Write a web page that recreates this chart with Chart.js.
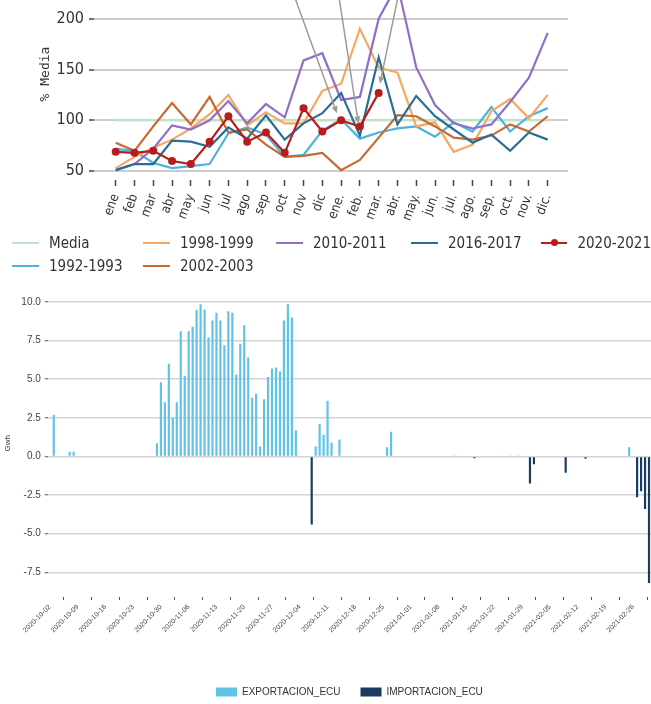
<!DOCTYPE html>
<html>
<head>
<meta charset="utf-8">
<script src="https://cdn.jsdelivr.net/npm/chart.js@4.4.1/dist/chart.umd.min.js"></script>
<style>
  body { margin: 0; background: #fff; width: 651px; height: 704px; overflow: hidden; position: relative; }
  #grafMeses { position: absolute; left: 0; top: -36px; }
  #leyenda { position: absolute; left: 12px; top: 231px; display: grid;
             grid-template-columns: 131px 133px 135px 130px 110px; grid-template-rows: 23px 23px;
             font-family: "DejaVu Sans Condensed", "DejaVu Sans", sans-serif; font-size: 15px; color: #333; }
  #leyenda .item { display: flex; align-items: center; white-space: nowrap; }
  #leyenda .linea { position: relative; width: 27px; height: 2px; margin-right: 10px; }
  #leyenda .punto { position: absolute; left: 10px; top: -2.5px; width: 7px; height: 7px; border-radius: 50%; }
  #grafDiario { position: absolute; left: 0; top: 285px; }
</style>
</head>
<body>
<canvas id="grafMeses" width="651" height="268"></canvas>
<div id="leyenda"></div>
<canvas id="grafDiario" width="651" height="422"></canvas>
<script>
// ---- grafico mensual (% sobre la media) ----
const meses = ['ene', 'feb', 'mar', 'abr', 'may', 'jun', 'jul', 'ago', 'sep', 'oct', 'nov', 'dic',
  'ene.', 'feb.', 'mar.', 'abr.', 'may.', 'jun.', 'jul.', 'ago.', 'sep.', 'oct.', 'nov.', 'dic.'];
const media  = [100, 100, 100, 100, 100, 100, 100, 100, 100, 100, 100, 100,
                100, 100, 100, 100, 100, 100, 100, 100, 100, 100, 100, 100];
const c1992 = [72, 70, 58, 53, 55, 57, 87, 93, 86, 64, 66, 90, 101, 82, 88, 92, 94, 84, 98, 89, 113, 89, 104, 112];
const c1998 = [53, 64, 73, 81, 92, 106, 125, 95, 108, 97, 97, 129, 136, 190, 152, 147, 94, 98, 69, 76, 109, 121, 102, 125];
const c2002 = [78, 70, 94, 117, 96, 123, 88, 91, 76, 64, 65, 68, 51, 61, 83, 105, 104, 94, 83, 81, 85, 96, 89, 104];
const c2010 = [51, 57, 72, 95, 91, 100, 119, 97, 116, 103, 159, 166, 120, 123, 200, 234, 152, 115, 97, 92, 96, 118, 142, 186];
const c2016 = [51, 57, 57, 80, 79, 74, 93, 82, 105, 81, 97, 107, 127, 85, 162, 96, 124, 104, 91, 78, 86, 70, 88, 81];
const c2020 = [69, 68, 70, 60, 57, 79, 104, 79, 88, 68, 112, 89, 100, 94, 127];
const ticksPct = [50, 100, 150, 200];
// flechas de anotacion: [indice mes, valor] origen -> destino
const flechas = [
  { desde: [8.96, 250], hasta: [11.78, 107] },
  { desde: [11.65, 250], hasta: [12.92, 97] },
  { desde: [15.35, 250], hasta: [14.07, 136] }
];

// ---- grafico diario (Gwh) ----
const ticksGwh = [-7.5, -5, -2.5, 0, 2.5, 5, 7.5, 10];
const fechasEje = ['2020-10-02', '2020-10-09', '2020-10-16', '2020-10-23', '2020-10-30', '2020-11-06',
  '2020-11-13', '2020-11-20', '2020-11-27', '2020-12-04', '2020-12-11', '2020-12-18', '2020-12-25',
  '2021-01-01', '2021-01-08', '2021-01-15', '2021-01-22', '2021-01-29', '2021-02-05', '2021-02-12',
  '2021-02-19', '2021-02-26'];
// una fila por semana, desde 2020-10-02 hasta 2021-03-02
const exportacion = [
  0, 2.7, 0, 0, 0.05, 0.3, 0.3,
  0, 0, 0, 0.05, 0, 0, 0,
  0, 0.05, 0, 0, 0, 0, 0,
  0, 0, 0, 0, 0, 0, 0.85,
  4.8, 3.5, 6.0, 2.5, 3.5, 8.1, 5.2,
  8.1, 8.4, 9.5, 9.85, 9.5, 7.7, 8.8,
  9.3, 8.8, 7.2, 9.4, 9.3, 5.3, 7.3,
  8.5, 6.4, 3.8, 4.05, 0.65, 3.7, 5.15,
  5.7, 5.75, 5.5, 8.8, 9.85, 9.0, 1.7,
  0, 0, 0, 0, 0.65, 2.1, 1.4,
  3.6, 0.9, 0, 1.1, 0, 0, 0,
  0, 0, 0, 0, 0, 0, 0,
  0, 0.6, 1.6, 0, 0, 0, 0,
  0, 0, 0, 0, 0, 0, 0,
  0, 0, 0, 0, 0.03, 0, 0,
  0, 0, 0, 0, 0, 0, 0,
  0, 0, 0.04, 0, 0.03, 0, 0.03,
  0, 0, 0, 0, 0, 0, 0,
  0, 0, 0, 0, 0, 0, 0,
  0, 0, 0, 0, 0, 0, 0,
  0, 0, 0, 0, 0, 0, 0.6,
  0, 0, 0, 0, 0
];
const importacion = [
  0, 0, 0, 0, 0, 0, 0,
  0, 0, 0, 0, 0, 0, 0,
  0, 0, 0, 0, 0, 0, 0,
  0, 0, 0, 0, 0, 0, 0,
  0, 0, 0, 0, 0, 0, 0,
  0, 0, 0, 0, 0, 0, 0,
  0, 0, 0, 0, 0, 0, 0,
  0, 0, 0, 0, 0, 0, 0,
  0, 0, 0, 0, 0, 0, 0,
  0, 0, 0, -4.4, 0, 0, 0,
  0, 0, 0, 0, 0, 0, 0,
  0, 0, 0, 0, 0, 0, 0,
  0, 0, 0, 0, 0, 0, 0,
  0, 0, 0, 0, 0, 0, 0,
  0, 0, 0, 0, 0, 0, 0,
  0, 0, -0.12, 0, 0, 0, 0,
  0, 0, 0, 0, 0, 0, 0,
  0, 0, -1.75, -0.5, 0, 0, 0,
  0, 0, 0, 0, -1.05, 0, 0,
  0, 0, -0.15, 0, 0, 0, 0,
  0, 0, 0, 0, 0, 0, 0,
  0, -2.65, -2.25, -3.4, -8.2
];

Chart.defaults.font.family = '"DejaVu Sans Condensed", "DejaVu Sans", sans-serif';
Chart.defaults.animation = false;

function serie(label, valores, color, orden) {
  return {
    label: label,
    data: valores.map((v, i) => ({ x: i, y: v })),
    borderColor: color,
    backgroundColor: color,
    borderWidth: 2.2,
    pointRadius: 0,
    tension: 0,
    order: orden
  };
}

// quita el relleno automatico de las escalas para fijar el area del grafico
function sinRelleno(s) {
  s.paddingTop = 0;
  s.paddingBottom = 0;
  s.paddingLeft = 0;
  s.paddingRight = 0;
}

const datosMeses = [
  serie('Media', media, '#bfe5c9', 9),
  serie('1992-1993', c1992, '#4db3da', 6),
  serie('1998-1999', c1998, '#f6a863', 5),
  serie('2002-2003', c2002, '#c8692d', 4),
  serie('2010-2011', c2010, '#8f70c6', 3),
  serie('2016-2017', c2016, '#2a6d95', 2),
  serie('2020-2021', c2020, '#b71d1d', 0)
];
datosMeses[6].pointRadius = 4;
datosMeses[6].pointBackgroundColor = '#b71d1d';
datosMeses[6].pointBorderWidth = 0;

const pluginFlechas = {
  id: 'flechas',
  afterDatasetsDraw(chart) {
    const { ctx, scales: { x, y } } = chart;
    ctx.save();
    ctx.strokeStyle = '#9b9b9b';
    ctx.fillStyle = '#9b9b9b';
    ctx.lineWidth = 1.5;
    flechas.forEach(f => {
      const x0 = x.getPixelForValue(f.desde[0]), y0 = y.getPixelForValue(f.desde[1]);
      const x1 = x.getPixelForValue(f.hasta[0]), y1 = y.getPixelForValue(f.hasta[1]);
      const ang = Math.atan2(y1 - y0, x1 - x0);
      const bx = x1 - 7 * Math.cos(ang), by = y1 - 7 * Math.sin(ang);
      ctx.beginPath();
      ctx.moveTo(x0, y0);
      ctx.lineTo(bx, by);
      ctx.stroke();
      ctx.beginPath();
      ctx.moveTo(x1, y1);
      ctx.lineTo(bx + 3 * Math.sin(ang), by - 3 * Math.cos(ang));
      ctx.lineTo(bx - 3 * Math.sin(ang), by + 3 * Math.cos(ang));
      ctx.closePath();
      ctx.fill();
    });
    ctx.restore();
  }
};

new Chart(document.getElementById('grafMeses'), {
  type: 'line',
  data: { datasets: datosMeses },
  plugins: [pluginFlechas],
  options: {
    responsive: false,
    devicePixelRatio: 1,
    layout: { padding: { top: 0, right: 83, left: 0, bottom: 0 } },
    plugins: { legend: { display: false }, tooltip: { enabled: false } },
    scales: {
      x: {
        type: 'linear',
        min: -1.155,
        max: 24.08,
        afterBuildTicks: s => { s.ticks = meses.map((m, i) => ({ value: i })); },
        afterFit: s => { s.height = 52; sinRelleno(s); },
        border: { display: false },
        grid: { drawOnChartArea: false, drawTicks: true, tickLength: 6, tickColor: '#444', tickWidth: 1.5 },
        ticks: {
          autoSkip: false,
          minRotation: 70,
          maxRotation: 70,
          padding: 6,
          color: '#333',
          font: { size: 13 },
          callback: v => meses[v]
        }
      },
      y: {
        min: 41.3,
        max: 249.85,
        afterBuildTicks: s => { s.ticks = ticksPct.map(v => ({ value: v })); },
        afterFit: s => { s.width = 94; sinRelleno(s); },
        border: { display: false },
        grid: { color: '#cccccc', lineWidth: 2, tickLength: 5, tickColor: '#444', tickWidth: 1.5 },
        ticks: { padding: 5, color: '#333', font: { size: 16 } },
        title: {
          display: true,
          text: '% Media',
          color: '#333',
          padding: { top: 38, bottom: 0 },
          font: { family: '"DejaVu Sans Mono", monospace', size: 13 }
        }
      }
    }
  }
});

// leyenda en columnas, como la original
const leyenda = document.getElementById('leyenda');
const colDe = [1, 1, 2, 2, 3, 4, 5];
const filaDe = [1, 2, 1, 2, 1, 1, 1];
datosMeses.forEach((d, i) => {
  const item = document.createElement('div');
  item.className = 'item';
  item.style.gridColumn = colDe[i];
  item.style.gridRow = filaDe[i];
  const linea = document.createElement('span');
  linea.className = 'linea';
  linea.style.background = d.borderColor;
  if (d.pointRadius > 0) {
    const p = document.createElement('span');
    p.className = 'punto';
    p.style.background = d.borderColor;
    linea.appendChild(p);
  }
  item.appendChild(linea);
  item.appendChild(document.createTextNode(d.label));
  leyenda.appendChild(item);
});

// ---- barras diarias ----
const dias = [];
for (let d = new Date(Date.UTC(2020, 9, 2)); d <= new Date(Date.UTC(2021, 2, 2)); d.setUTCDate(d.getUTCDate() + 1)) {
  dias.push(d.toISOString().slice(0, 10));
}

new Chart(document.getElementById('grafDiario'), {
  type: 'bar',
  data: {
    labels: dias,
    datasets: [
      { label: 'EXPORTACION_ECU', data: exportacion, backgroundColor: '#5ec3e6' },
      { label: 'IMPORTACION_ECU', data: importacion, backgroundColor: '#183b62' }
    ]
  },
  options: {
    responsive: false,
    devicePixelRatio: 1,
    layout: { padding: { top: 4.6, right: 0, left: 0, bottom: 0 } },
    datasets: { bar: { grouped: false, barPercentage: 0.55, categoryPercentage: 1.0 } },
    plugins: {
      tooltip: { enabled: false },
      legend: {
        position: 'bottom',
        fullSize: false,
        labels: {
          boxWidth: 21,
          boxHeight: 9,
          padding: 20,
          color: '#333',
          font: { family: '"Liberation Sans", Arial, sans-serif', size: 10 }
        }
      }
    },
    scales: {
      x: {
        afterBuildTicks: s => { s.ticks = s.ticks.filter(t => fechasEje.includes(dias[t.value])); },
        afterFit: s => { s.height = 70; sinRelleno(s); },
        border: { display: false },
        grid: { drawOnChartArea: false, drawTicks: true, tickLength: 3, tickColor: '#555', tickWidth: 1 },
        ticks: {
          autoSkip: false,
          minRotation: 45,
          maxRotation: 45,
          padding: 3,
          color: '#444',
          font: { family: '"Liberation Sans", Arial, sans-serif', size: 7 },
          callback: function (v) { return this.getLabelForValue(v); }
        }
      },
      y: {
        min: -9.1,
        max: 10.8,
        afterBuildTicks: s => { s.ticks = ticksGwh.map(v => ({ value: v })); },
        afterFit: s => { s.width = 47.8; sinRelleno(s); },
        border: { display: false },
        grid: { color: '#d4d4d4', lineWidth: 1.5, tickLength: 3, tickColor: '#555', tickWidth: 1 },
        ticks: {
          padding: 4,
          color: '#444',
          font: { family: '"Liberation Sans", Arial, sans-serif', size: 10 },
          callback: v => v.toFixed(1)
        },
        title: {
          display: true,
          text: 'Gwh',
          color: '#333',
          padding: { top: 3, bottom: 0 },
          font: { family: '"Liberation Sans", Arial, sans-serif', size: 8 }
        }
      }
    }
  }
});
</script>
</body>
</html>
